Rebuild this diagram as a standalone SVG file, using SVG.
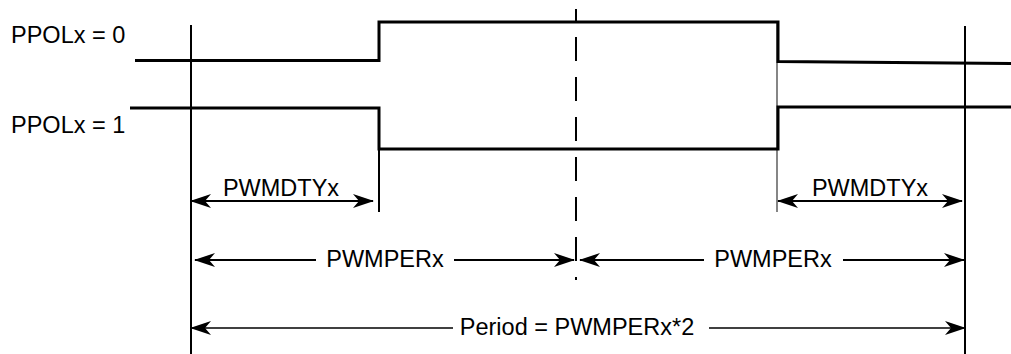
<svg xmlns="http://www.w3.org/2000/svg" width="1011" height="354" viewBox="0 0 1011 354">
<style>
.t{font-family:"Liberation Sans",Arial,sans-serif;font-size:23.5px;fill:#000}
.sig{fill:none;stroke:#000;stroke-width:3}
.ref{stroke:#000;stroke-width:2}
.dim{stroke:#000;stroke-width:2}
.dimthin{stroke:#000;stroke-width:1.4}
</style>
<defs>
<marker id="ah" viewBox="-24 -9 26 18" refX="0" refY="0" markerWidth="26" markerHeight="18" markerUnits="userSpaceOnUse" orient="auto-start-reverse">
<path d="M1,0 L-20,-7 L-14,0 L-20,7 Z" fill="#000"/>
</marker>
</defs>
<rect width="1011" height="354" fill="#fff"/>
<g id="reference-lines">
<line class="ref" x1="191" y1="25" x2="191" y2="354"/>
<line class="ref" x1="965" y1="26" x2="965" y2="354"/>
<line x1="576" y1="9" x2="576" y2="280" stroke="#000" stroke-width="2" stroke-dasharray="24 16" stroke-dashoffset="12"/>
<line class="ref" x1="379" y1="149" x2="379" y2="212"/>
<line x1="777" y1="22" x2="777" y2="212" stroke="#444" stroke-width="1.3"/>
</g>
<g id="signal-ppol0">
<path class="sig" d="M135,60.5 H379 V22 H778 V61.5 L1011,63.5"/>
<text class="t" x="11" y="43">PPOLx = 0</text>
</g>
<g id="signal-ppol1">
<path class="sig" d="M130,108 H379 V149 H778 V107 H1011"/>
<text class="t" x="11" y="133">PPOLx = 1</text>
</g>
<g id="connectors">
<line class="dim" x1="191" y1="201" x2="373" y2="201" marker-start="url(#ah)" marker-end="url(#ah)"/>
<line class="dim" x1="778" y1="201" x2="962" y2="201" marker-start="url(#ah)" marker-end="url(#ah)"/>
<line class="dim" x1="195" y1="260" x2="316" y2="260" marker-start="url(#ah)"/>
<line class="dim" x1="454" y1="260" x2="574" y2="260" marker-end="url(#ah)"/>
<line class="dim" x1="580" y1="260" x2="704" y2="260" marker-start="url(#ah)"/>
<line class="dim" x1="843" y1="260" x2="964" y2="260" marker-end="url(#ah)"/>
<line class="dimthin" x1="191" y1="328" x2="453" y2="328" marker-start="url(#ah)"/>
<line class="dimthin" x1="709" y1="328" x2="965" y2="328" marker-end="url(#ah)"/>
</g>
<g id="labels">
<text class="t" x="281" y="196" text-anchor="middle">PWMDTYx</text>
<text class="t" x="870" y="196" text-anchor="middle">PWMDTYx</text>
<text class="t" x="385" y="267" text-anchor="middle">PWMPERx</text>
<text class="t" x="773" y="267" text-anchor="middle">PWMPERx</text>
<text class="t" x="577" y="335" text-anchor="middle">Period = PWMPERx*2</text>
</g>
</svg>
